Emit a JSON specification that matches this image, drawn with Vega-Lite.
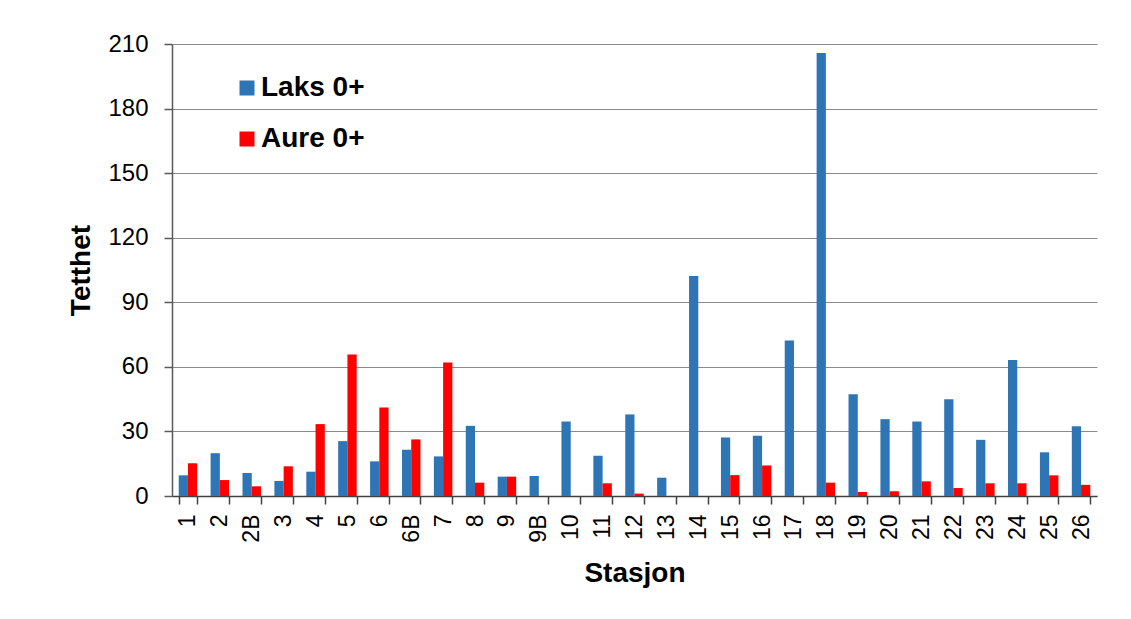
{
  "$schema": "https://vega.github.io/schema/vega-lite/v6.json",
  "width": 925,
  "height": 452,
  "autosize": {"type": "none"},
  "padding": {"left": 172, "top": 44, "right": 34, "bottom": 123},
  "background": "white",
  "data": {
    "values": [
      {"stasjon": "1", "art": "Laks 0+", "tetthet": 9.6},
      {"stasjon": "1", "art": "Aure 0+", "tetthet": 15.2},
      {"stasjon": "2", "art": "Laks 0+", "tetthet": 19.9},
      {"stasjon": "2", "art": "Aure 0+", "tetthet": 7.4},
      {"stasjon": "2B", "art": "Laks 0+", "tetthet": 10.7},
      {"stasjon": "2B", "art": "Aure 0+", "tetthet": 4.5},
      {"stasjon": "3", "art": "Laks 0+", "tetthet": 7.0},
      {"stasjon": "3", "art": "Aure 0+", "tetthet": 13.8},
      {"stasjon": "4", "art": "Laks 0+", "tetthet": 11.3},
      {"stasjon": "4", "art": "Aure 0+", "tetthet": 33.4},
      {"stasjon": "5", "art": "Laks 0+", "tetthet": 25.5},
      {"stasjon": "5", "art": "Aure 0+", "tetthet": 65.7},
      {"stasjon": "6", "art": "Laks 0+", "tetthet": 16.1},
      {"stasjon": "6", "art": "Aure 0+", "tetthet": 41.1},
      {"stasjon": "6B", "art": "Laks 0+", "tetthet": 21.5},
      {"stasjon": "6B", "art": "Aure 0+", "tetthet": 26.3},
      {"stasjon": "7", "art": "Laks 0+", "tetthet": 18.4},
      {"stasjon": "7", "art": "Aure 0+", "tetthet": 62.0},
      {"stasjon": "8", "art": "Laks 0+", "tetthet": 32.6},
      {"stasjon": "8", "art": "Aure 0+", "tetthet": 6.2},
      {"stasjon": "9", "art": "Laks 0+", "tetthet": 9.0},
      {"stasjon": "9", "art": "Aure 0+", "tetthet": 9.0},
      {"stasjon": "9B", "art": "Laks 0+", "tetthet": 9.3},
      {"stasjon": "9B", "art": "Aure 0+", "tetthet": 0},
      {"stasjon": "10", "art": "Laks 0+", "tetthet": 34.6},
      {"stasjon": "10", "art": "Aure 0+", "tetthet": 0},
      {"stasjon": "11", "art": "Laks 0+", "tetthet": 18.7},
      {"stasjon": "11", "art": "Aure 0+", "tetthet": 5.9},
      {"stasjon": "12", "art": "Laks 0+", "tetthet": 37.9},
      {"stasjon": "12", "art": "Aure 0+", "tetthet": 1.1},
      {"stasjon": "13", "art": "Laks 0+", "tetthet": 8.5},
      {"stasjon": "13", "art": "Aure 0+", "tetthet": 0},
      {"stasjon": "14", "art": "Laks 0+", "tetthet": 102.2},
      {"stasjon": "14", "art": "Aure 0+", "tetthet": 0},
      {"stasjon": "15", "art": "Laks 0+", "tetthet": 27.2},
      {"stasjon": "15", "art": "Aure 0+", "tetthet": 9.7},
      {"stasjon": "16", "art": "Laks 0+", "tetthet": 28.0},
      {"stasjon": "16", "art": "Aure 0+", "tetthet": 14.2},
      {"stasjon": "17", "art": "Laks 0+", "tetthet": 72.2},
      {"stasjon": "17", "art": "Aure 0+", "tetthet": 0},
      {"stasjon": "18", "art": "Laks 0+", "tetthet": 205.8},
      {"stasjon": "18", "art": "Aure 0+", "tetthet": 6.2},
      {"stasjon": "19", "art": "Laks 0+", "tetthet": 47.3},
      {"stasjon": "19", "art": "Aure 0+", "tetthet": 1.9},
      {"stasjon": "20", "art": "Laks 0+", "tetthet": 35.7},
      {"stasjon": "20", "art": "Aure 0+", "tetthet": 2.2},
      {"stasjon": "21", "art": "Laks 0+", "tetthet": 34.6},
      {"stasjon": "21", "art": "Aure 0+", "tetthet": 6.8},
      {"stasjon": "22", "art": "Laks 0+", "tetthet": 45.0},
      {"stasjon": "22", "art": "Aure 0+", "tetthet": 3.7},
      {"stasjon": "23", "art": "Laks 0+", "tetthet": 26.1},
      {"stasjon": "23", "art": "Aure 0+", "tetthet": 5.9},
      {"stasjon": "24", "art": "Laks 0+", "tetthet": 63.2},
      {"stasjon": "24", "art": "Aure 0+", "tetthet": 5.9},
      {"stasjon": "25", "art": "Laks 0+", "tetthet": 20.3},
      {"stasjon": "25", "art": "Aure 0+", "tetthet": 9.6},
      {"stasjon": "26", "art": "Laks 0+", "tetthet": 32.4},
      {"stasjon": "26", "art": "Aure 0+", "tetthet": 5.2}
    ]
  },
  "mark": {"type": "bar"},
  "encoding": {
    "x": {
      "field": "stasjon",
      "type": "nominal",
      "sort": null,
      "scale": {"paddingInner": 0.42, "paddingOuter": 0.21},
      "axis": {
        "title": "Stasjon",
        "labelAngle": -90,
        "labelAlign": "right",
        "labelBaseline": "middle",
        "labelFontSize": 23,
        "labelPadding": 10,
        "tickBand": "extent",
        "tickSize": 8,
        "tickColor": "#404040",
        "domainColor": "#404040",
        "titlePadding": 17
      }
    },
    "xOffset": {
      "field": "art",
      "type": "nominal",
      "sort": ["Laks 0+", "Aure 0+"]
    },
    "y": {
      "field": "tetthet",
      "type": "quantitative",
      "scale": {"domain": [0, 210], "nice": false},
      "axis": {
        "title": "Tetthet",
        "values": [0, 30, 60, 90, 120, 150, 180, 210],
        "labelFontSize": 24,
        "labelPadding": 16,
        "tickSize": 8,
        "tickColor": "#595959",
        "domainColor": "#595959",
        "grid": true,
        "gridColor": "#8a8a8a",
        "titlePadding": 12
      }
    },
    "color": {
      "field": "art",
      "type": "nominal",
      "scale": {"domain": ["Laks 0+", "Aure 0+"], "range": ["#2e75b6", "#ff0000"]},
      "legend": {
        "title": null,
        "orient": "none",
        "legendX": 61,
        "legendY": 30,
        "padding": 0,
        "symbolType": "square",
        "symbolSize": 225,
        "symbolStrokeWidth": 0,
        "symbolOpacity": 1,
        "labelFontSize": 28,
        "labelFontWeight": "bold",
        "labelColor": "#000000",
        "labelOffset": 0,
        "rowPadding": 23
      }
    }
  },
  "config": {
    "font": "Liberation Sans",
    "view": {"stroke": null},
    "axis": {
      "labelFont": "Liberation Sans",
      "labelColor": "#000000",
      "titleFont": "Liberation Sans",
      "titleFontSize": 28,
      "titleFontWeight": "bold",
      "titleColor": "#000000",
      "domainWidth": 1.5,
      "tickWidth": 1.5,
      "gridWidth": 1.2
    },
    "legend": {"labelFont": "Liberation Sans"}
  }
}
